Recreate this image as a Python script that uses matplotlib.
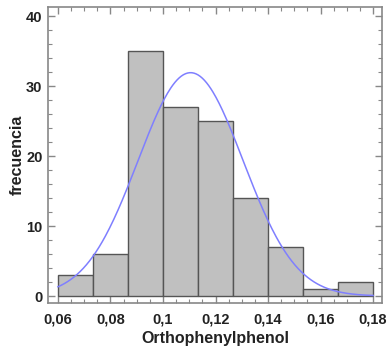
import numpy as np
import matplotlib
matplotlib.use("Agg")
import matplotlib.pyplot as plt
from matplotlib.ticker import MultipleLocator

plt.rcParams['font.family'] = ['Liberation Sans', 'DejaVu Sans']

bin_edges = [0.06, 0.07333, 0.08667, 0.10, 0.11333, 0.12667, 0.14, 0.15333, 0.16667, 0.18]
counts = [3, 6, 35, 27, 25, 14, 7, 1, 2]
fit_mean = 0.1105
fit_sigma = 0.0200
x_ticks = [0.06, 0.08, 0.10, 0.12, 0.14, 0.16, 0.18]
x_ticklabels = ["0,06", "0,08", "0,1", "0,12", "0,14", "0,16", "0,18"]
y_ticks = [0, 10, 20, 30, 40]

fig = plt.figure(figsize=(3.90, 3.53), dpi=100)
ax = fig.add_axes([48/390, 1-303/353, (382-48)/390, (303-7)/353])

edges = np.array(bin_edges)
widths = np.diff(edges)
ax.bar(edges[:-1], counts, width=widths, align='edge', color='#c0c0c0',
       edgecolor='#555555', linewidth=1.0, zorder=2)

n = sum(counts)
w = widths.mean()
xs = np.linspace(edges[0], edges[-1], 300)
ys = n * w * np.exp(-0.5 * ((xs - fit_mean) / fit_sigma) ** 2) / (fit_sigma * np.sqrt(2 * np.pi))
ax.plot(xs, ys, color='#7f7fff', linewidth=1.1, zorder=3)

ax.set_xlim(0.0562, 0.1834)
ax.set_ylim(-1.0, 41.3)
ax.set_xticks(x_ticks)
ax.set_xticklabels(x_ticklabels)
ax.set_yticks(y_ticks)
ax.xaxis.set_minor_locator(MultipleLocator(0.005))
ax.yaxis.set_minor_locator(MultipleLocator(2))
ax.tick_params(which='both', direction='in', top=True, right=True, colors='#888888',
               labelcolor='#222222', labelsize=10.5)
ax.tick_params(which='major', length=5, width=1)
ax.tick_params(which='minor', length=3, width=0.8)
ax.tick_params(axis='x', which='major', pad=7)
ax.tick_params(axis='y', which='major', pad=4)
for lab in ax.get_xticklabels() + ax.get_yticklabels():
    lab.set_fontweight('bold')
for s in ax.spines.values():
    s.set_color('#888888')
    s.set_linewidth(1.2)

ax.set_xlabel('Orthophenylphenol', fontsize=11.5, fontweight='bold', color='#222222', labelpad=3)
ax.set_ylabel('frecuencia', fontsize=11.5, fontweight='bold', color='#222222', labelpad=1)

fig.savefig('out.png', dpi=100)
